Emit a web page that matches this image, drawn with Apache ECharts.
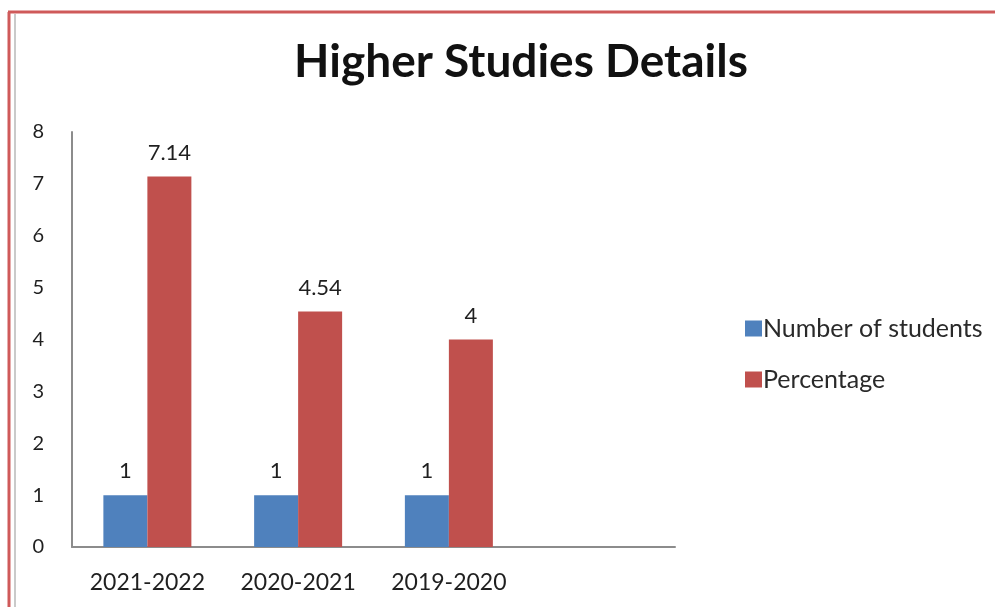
<!DOCTYPE html>
<html>
<head>
<meta charset="utf-8">
<script src="https://cdn.jsdelivr.net/npm/echarts@6/dist/echarts.min.js"></script>
<style>
  html, body { margin: 0; padding: 0; background: #fff; }
  #chart { width: 995px; height: 607px; }
</style>
</head>
<body>
<div id="chart"></div>
<script>
// Academic years (last slot left empty, as in the worksheet range)
const categories = ['2021-2022', '2020-2021', '2019-2020', ''];
const studentCounts = [1, 1, 1, null];
const percentages = [7.14, 4.54, 4, null];
const yTicks = [0, 1, 2, 3, 4, 5, 6, 7, 8];

const textColor = '#1f1f1f';
const font = 'Lato, "Open Sans", sans-serif';

const chart = echarts.init(document.getElementById('chart'), null, { renderer: 'canvas' });

const labelStyle = {
  show: true,
  position: 'top',
  distance: 13,
  color: textColor,
  fontFamily: font,
  fontSize: 22
};

chart.setOption({
  animation: false,
  backgroundColor: '#ffffff',
  title: {
    text: 'Higher Studies Details',
    left: 516,
    top: 34,
    textAlign: 'center',
    textStyle: { fontFamily: font, fontWeight: 'bold', fontSize: 46, color: '#111' }
  },
  legend: {
    orient: 'vertical',
    left: 740,
    top: 311,
    itemGap: 26,
    itemWidth: 17,
    itemHeight: 16,
    icon: 'rect',
    textStyle: { fontFamily: font, fontSize: 25, color: '#2a2a2a', padding: [0, 0, 0, -4] },
    data: ['Number of students', 'Percentage']
  },
  grid: { left: 72, right: 320, top: 132, bottom: 60 },
  xAxis: {
    type: 'category',
    data: categories,
    axisLine: { lineStyle: { color: '#8c8c8c', width: 2 } },
    axisTick: { show: false },
    axisLabel: { color: textColor, fontFamily: font, fontSize: 23, margin: 24 }
  },
  yAxis: {
    type: 'value',
    min: yTicks[0],
    max: yTicks[yTicks.length - 1],
    interval: 1,
    axisLine: { show: true, lineStyle: { color: '#8c8c8c', width: 2 } },
    axisTick: { show: false },
    splitLine: { show: false },
    axisLabel: { color: textColor, fontFamily: font, fontSize: 20, margin: 28 }
  },
  series: [
    {
      name: 'Number of students',
      type: 'bar',
      data: studentCounts,
      barWidth: 44,
      barGap: '0%',
      itemStyle: { color: '#4F81BD' },
      label: labelStyle
    },
    {
      name: 'Percentage',
      type: 'bar',
      data: percentages,
      barWidth: 44,
      barGap: '0%',
      itemStyle: { color: '#C0504D' },
      label: labelStyle
    }
  ],
  graphic: [
    // frame around the chart area
    { type: 'line', shape: { x1: 8, y1: 12, x2: 995, y2: 12 }, style: { stroke: '#cf5a5a', lineWidth: 3 } },
    { type: 'line', shape: { x1: 9, y1: 12, x2: 9, y2: 607 }, style: { stroke: '#cf5a5a', lineWidth: 3 } },
    { type: 'line', shape: { x1: 15, y1: 14, x2: 15, y2: 607 }, style: { stroke: '#b8b8b8', lineWidth: 1.5 } }
  ]
});
</script>
</body>
</html>
